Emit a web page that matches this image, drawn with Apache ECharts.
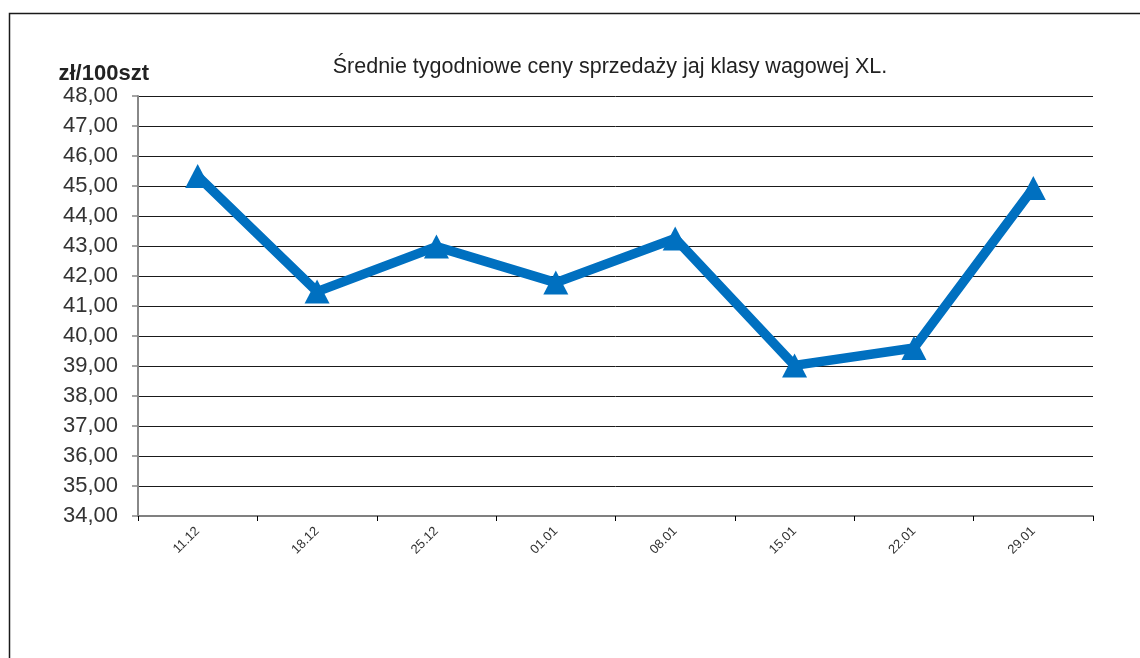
<!DOCTYPE html>
<html>
<head>
<meta charset="utf-8">
<script src="https://cdn.jsdelivr.net/npm/echarts@6/dist/echarts.min.js"></script>
<style>
html,body{margin:0;padding:0;background:#fff;}
#c{width:1140px;height:658px;}
</style>
</head>
<body>
<div id="c"></div>
<script>
var categories = ['11.12','18.12','25.12','01.01','08.01','15.01','22.01','29.01'];
var prices = [45.33, 41.48, 42.98, 41.78, 43.25, 39.02, 39.6, 44.93];
var titleText = 'Średnie tygodniowe ceny sprzedaży jaj klasy wagowej XL.';
var unitText = 'zł/100szt';

var chart = echarts.init(document.getElementById('c'));
chart.setOption({
  animation: false,
  backgroundColor: '#fff',
  graphic: [{
    type: 'rect',
    shape: {x: 9.5, y: 13.5, width: 1300, height: 800},
    style: {fill: 'none', stroke: '#1a1a1a', lineWidth: 1.5},
    silent: true,
    z: 0
  }],
  title: {
    text: titleText,
    left: 605,
    top: 51,
    textAlign: 'center',
    textStyle: {fontFamily: 'Liberation Sans, Arial, sans-serif', fontSize: 21.5, fontWeight: 'normal', color: '#222'}
  },
  grid: {left: 138, right: 47, top: 96, bottom: 142, containLabel: false},
  xAxis: {
    type: 'category',
    data: categories,
    boundaryGap: true,
    axisLine: {lineStyle: {color: '#808080', width: 2}},
    axisTick: {show: true, length: 5, lineStyle: {color: '#000', width: 1}},
    axisLabel: {rotate: 45, fontSize: 13, color: '#333', fontFamily: 'Liberation Sans, Arial, sans-serif', margin: 13},
    splitLine: {show: false}
  },
  yAxis: {
    type: 'value',
    min: 34,
    max: 48,
    interval: 1,
    name: unitText,
    nameLocation: 'end',
    nameGap: 8,
    nameTextStyle: {fontFamily: 'Liberation Sans, Arial, sans-serif', fontSize: 22, fontWeight: 'bold', color: '#222', align: 'right', padding: [0, -11, 0, 0]},
    axisLine: {show: true, lineStyle: {color: '#888', width: 2}},
    axisTick: {show: true, length: 6, lineStyle: {color: '#888', width: 1.5}},
    axisLabel: {
      fontSize: 22,
      color: '#333',
      margin: 20,
      fontFamily: 'Liberation Sans, Arial, sans-serif',
      formatter: function (v) { return v.toFixed(2).replace('.', ','); }
    },
    splitLine: {lineStyle: {color: '#1a1a1a', width: 1}}
  },
  series: [{
    type: 'line',
    data: prices,
    lineStyle: {color: '#0070C0', width: 9.5},
    itemStyle: {color: '#0070C0'},
    symbol: 'triangle',
    symbolSize: [25, 24],
    showAllSymbol: true,
    z: 5
  }]
});
</script>
</body>
</html>
